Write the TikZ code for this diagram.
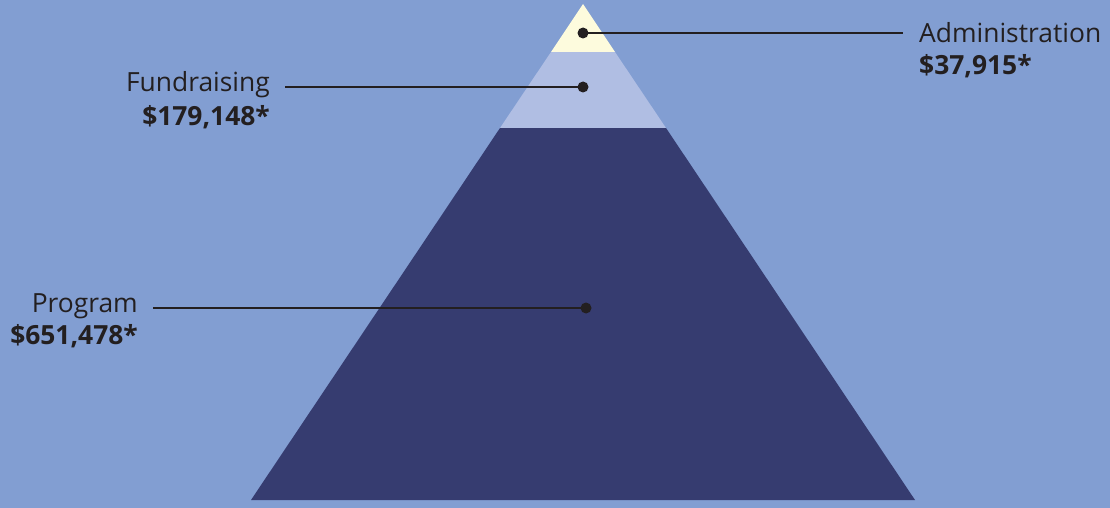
\documentclass[tikz,border=0pt]{standalone}
\usepackage{fontspec}
\setmainfont{Open Sans}
\usetikzlibrary{calc}

\definecolor{bgblue}{HTML}{829ED2}
\definecolor{navy}{HTML}{363C70}
\definecolor{lavender}{HTML}{B0BEE3}
\definecolor{cream}{HTML}{FDFBDD}
\definecolor{ink}{HTML}{231F20}

\begin{document}
\begin{tikzpicture}[x=1pt, y=-1pt,
  lbl/.style={inner sep=0pt, text=ink, font=\fontsize{26.4}{31}\selectfont},
  val/.style={inner sep=0pt, text=ink, font=\fontsize{26.4}{31}\selectfont\bfseries},
  leader/.style={draw=ink, line width=2.9pt},
  dot/.style={fill=ink}]

  \fill[bgblue] (0,0) rectangle (1110,508);
  \useasboundingbox (0,0) rectangle (1110,508);

  % pyramid layers
  \fill[navy] (500,128) -- (666,128) -- (915,500) -- (251,500) -- cycle;
  \fill[lavender] (551,52) -- (615,52) -- (666,128) -- (500,128) -- cycle;
  \fill[cream] (583,4) -- (615,52) -- (551,52) -- cycle;

  \coordinate (adot) at (583,33);
  \coordinate (fdot) at (583,87);
  \coordinate (pdot) at (586,308);

  \node[lbl, anchor=base west] (admin) at (919,43) {Administration};
  \node[val, anchor=base west] (adminval) at (919,75) {\$37,915*};

  \node[lbl, anchor=base east] (fund) at (270,92) {Fundraising};
  \node[val, anchor=base east] (fundval) at (270,125) {\$179,148*};

  \node[lbl, anchor=base east] (prog) at (138,312) {Program};
  \node[val, anchor=base east] (progval) at (138,344) {\$651,478*};

  \draw[leader] (adot) -- ($(admin.west |- adot)+(-16,0)$);
  \draw[leader] ($(fund.east |- fdot)+(15,0)$) -- (fdot);
  \draw[leader] ($(prog.east |- pdot)+(15,0)$) -- (pdot);

  \fill[dot] (adot) circle (5.5);
  \fill[dot] (fdot) circle (5.5);
  \fill[dot] (pdot) circle (5.5);

\end{tikzpicture}
\end{document}
